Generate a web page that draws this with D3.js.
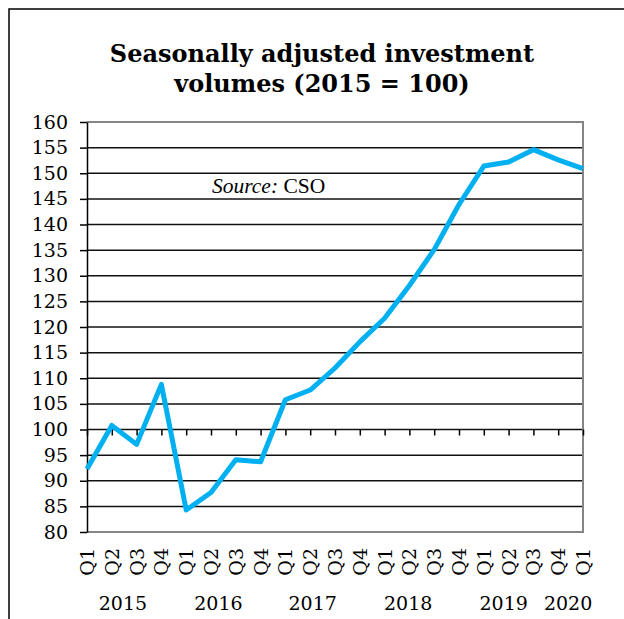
<!DOCTYPE html>
<html>
<head>
<meta charset="utf-8">
<script src="https://cdn.jsdelivr.net/npm/d3@7"></script>
<style>
  html, body { margin: 0; padding: 0; background: #fff; }
  svg { display: block; }
</style>
</head>
<body>
<script>
// Quarterly categories, 2015 Q1 to 2020 Q1
const quarters = ["Q1","Q2","Q3","Q4","Q1","Q2","Q3","Q4","Q1","Q2","Q3","Q4",
                  "Q1","Q2","Q3","Q4","Q1","Q2","Q3","Q4","Q1"];
// Seasonally adjusted investment volume index (2015 = 100)
const investment = [92.3, 100.8, 97.1, 108.8, 84.3, 87.7, 94.1, 93.7, 105.8, 107.7,
                    112.0, 117.1, 121.7, 128.1, 135.1, 143.9, 151.4, 152.2, 154.6, 152.6, 150.9];
const years = ["2015", "2016", "2017", "2018", "2019", "2020"];
const yTicks = [80, 85, 90, 95, 100, 105, 110, 115, 120, 125, 130, 135, 140, 145, 150, 155, 160];
const titleLines = ["Seasonally adjusted investment", "volumes (2015 = 100)"];

// Layout
const W = 624, H = 619;
const plot = { left: 87, right: 583, top: 122, bottom: 532 };
const yearAt = [1.45, 5.3, 9.1, 12.95, 16.8, 19.4]; // centre of each year label, in category units
const serif = "'DejaVu Serif', serif";
const lineColor = "#00B0F0";

const svg = d3.select("body").append("svg").attr("width", W).attr("height", H);

// Chart frame
svg.append("rect")
  .attr("x", 9).attr("y", 9).attr("width", 800).attr("height", 800)
  .attr("fill", "none").attr("stroke", "#000").attr("stroke-width", 1.5);

// Title
svg.append("g").selectAll("text").data(titleLines).join("text")
  .attr("x", 322).attr("y", (d, i) => 62 + i * 30)
  .attr("text-anchor", "middle")
  .style("font-family", serif).style("font-weight", "bold").style("font-size", "24px")
  .text(d => d);

const x = d3.scalePoint().domain(d3.range(quarters.length)).range([plot.left, plot.right]);
const y = d3.scaleLinear().domain([80, 160]).range([plot.bottom, plot.top]);

// Horizontal gridlines
svg.append("g").selectAll("line").data(yTicks.filter(v => v > 80 && v < 160)).join("line")
  .attr("x1", plot.left).attr("x2", plot.right)
  .attr("y1", d => y(d)).attr("y2", d => y(d))
  .attr("stroke", "#111").attr("stroke-width", 1.5);

// Plot area border (top, right, bottom)
svg.append("path")
  .attr("d", `M${plot.left},${y(160)}H${plot.right}V${y(80)}H${plot.left}`)
  .attr("fill", "none").attr("stroke", "#858585").attr("stroke-width", 2);

// Y axis
const yAxis = svg.append("g")
  .attr("transform", `translate(${plot.left},0)`)
  .call(d3.axisLeft(y).tickValues(yTicks).tickSize(7).tickPadding(12).tickSizeOuter(0));
yAxis.select(".domain").attr("stroke", "#000").attr("stroke-width", 1.5);
yAxis.selectAll(".tick line").attr("stroke", "#000").attr("stroke-width", 1.5);
yAxis.selectAll(".tick text")
  .style("font-family", serif).style("font-size", "19px").attr("fill", "#000");

// X axis crosses at 100: tick marks only
const xAxis = svg.append("g")
  .attr("transform", `translate(0,${y(100)})`)
  .call(d3.axisBottom(x).tickSize(6).tickFormat("").tickSizeOuter(0));
xAxis.select(".domain").remove();
xAxis.selectAll(".tick line").attr("stroke", "#000").attr("stroke-width", 1.5);

// Quarter labels below the plot, rotated
svg.append("g").selectAll("text").data(quarters).join("text")
  .attr("transform", (d, i) => `translate(${x(i) + 7},${plot.bottom + 16}) rotate(-90)`)
  .attr("text-anchor", "end")
  .style("font-family", serif).style("font-size", "19px")
  .text(d => d);

// Year labels
svg.append("g").selectAll("text").data(years).join("text")
  .attr("x", (d, i) => plot.left + yearAt[i] * x.step())
  .attr("y", 610)
  .attr("text-anchor", "middle")
  .style("font-family", serif).style("font-size", "19px")
  .text(d => d);

// Investment line
svg.append("path")
  .datum(investment)
  .attr("d", d3.line().x((d, i) => x(i)).y(d => y(d)))
  .attr("fill", "none").attr("stroke", lineColor).attr("stroke-width", 5)
  .attr("stroke-linejoin", "round");

// Source note
const src = svg.append("text")
  .attr("x", 212).attr("y", 193)
  .style("font-family", "'Liberation Serif', serif").style("font-size", "21.5px");
src.append("tspan").style("font-style", "italic").text("Source:");
src.append("tspan").text(" CSO");
</script>
</body>
</html>
